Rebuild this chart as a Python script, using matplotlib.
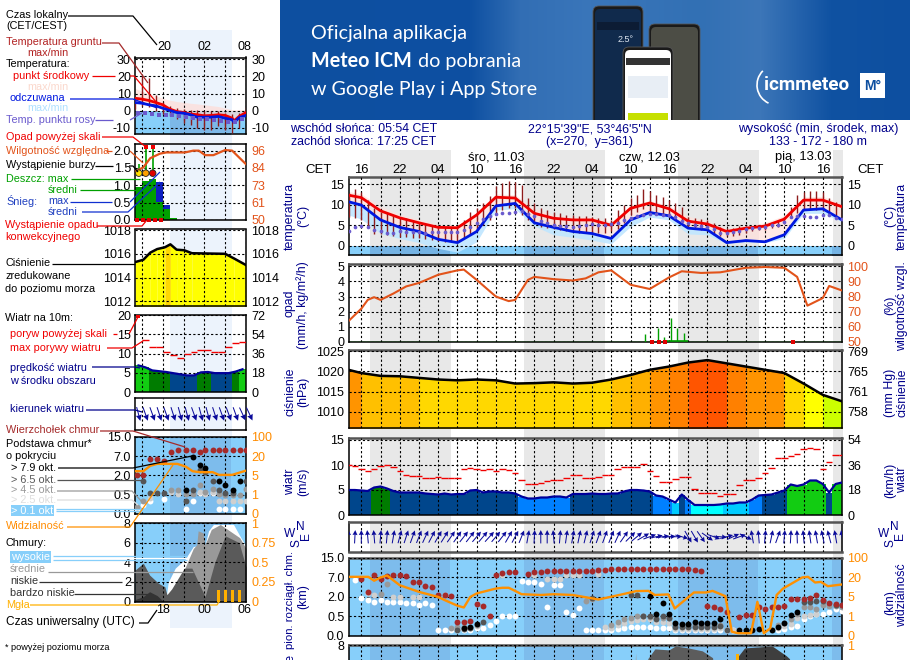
import numpy as np
import matplotlib
matplotlib.use('Agg')
import matplotlib.pyplot as plt
from matplotlib.colors import ListedColormap, BoundaryNorm
from matplotlib.patches import Rectangle, FancyBboxPatch, Arc

plt.rcParams['font.family'] = ['Liberation Sans', 'DejaVu Sans']
FS = 7.8
TICK = 9
HEAD = 8.9

# ---------- main meteogram data (hours since the left edge) ----------
t_temp = [0, 2, 5, 8, 11, 14, 17, 20, 23, 26, 29, 32, 35, 38, 41, 44, 47, 50, 53, 56, 59, 62, 65, 68, 71, 74, 77]
temp_mid = [12.3, 11.7, 8.5, 6.8, 5.6, 4.5, 4.4, 7.5, 11.8, 11.6, 7.9, 6.7, 6.3, 6.3, 5.0, 9.1, 10.4, 9.0, 6.0, 5.3, 3.5, 4.3, 4.8, 6.5, 11.1, 11.1, 9.5]
temp_mid_hi = [13.2, 12.6, 9.6, 7.6, 6.4, 5.2, 5.0, 8.2, 12.6, 12.4, 9.0, 7.6, 7.0, 7.0, 5.8, 9.9, 11.0, 9.8, 7.2, 6.0, 4.2, 5.0, 5.6, 7.4, 11.9, 12.0, 10.3]
temp_app = [10.7, 9.9, 6.3, 4.5, 3.5, 1.6, 0.8, 3.5, 9.7, 10.3, 5.6, 4.5, 3.5, 3.0, 1.8, 6.3, 8.1, 7.3, 4.3, 3.9, 0.8, 1.3, 1.0, 2.7, 8.7, 9.0, 6.3]
temp_app_lo = [7.5, 6.5, 3.0, 1.8, 0.8, -0.6, -1.5, 1.0, 8.7, 9.0, 4.8, 2.7, 2.1, 1.4, 0.5, 4.7, 7.0, 6.3, 2.9, 2.7, 0.6, 1.0, 0.8, 1.8, 7.9, 7.9, 5.9]
dew = [3.6, 4.7, 4.9, 4.7, 3.9, 3.5, 3.1, 3.1, 3.5, 3.3, 3.3, 3.3, 3.2, 3.3, 3.3, 3.3, 3.3, 3.3, 3.8, 4.6, 5.5, 6.5, 7.2, 7.8, 8.0, 8.0, 8.2, 8.5, 7.7, 7.2, 6.0, 5.5, 5.0, 4.8, 4.8, 4.7, 4.9, 5.0, 5.2, 5.0, 5.0, 5.2, 5.5, 6.2, 6.7, 7.2, 7.4, 7.8, 7.8, 7.6, 7.5, 6.9, 6.0, 5.5, 5.0, 4.9, 4.7, 4.0, 3.2, 3.1, 3.4, 3.7, 4.2, 4.4, 4.4, 4.7, 5.0, 5.0, 5.7, 7.0, 7.2, 7.2, 6.9, 6.9, 7.5, 7.6, 6.8, 6.5]
ground_max = [12.8, 13.9, 13.1, 11.1, 9.1, 8.3, 7.9, 7.5, 7.1, 6.7, 6.3, 5.9, 5.3, 5.1, 4.8, 4.7, 4.5, 4.8, 6.3, 8.3, 9.1, 10.3, 12.0, 14.4, 15.2, 15.7, 15.5, 14.8, 11.5, 10.3, 9.1, 8.7, 8.3, 7.9, 7.5, 7.5, 7.3, 7.3, 7.1, 6.7, 6.7, 6.3, 8.7, 9.9, 11.5, 12.3, 13.7, 13.2, 12.3, 11.8, 11.1, 10.3, 9.5, 7.1, 6.7, 6.5, 6.3, 5.5, 4.7, 4.3, 4.3, 4.8, 4.8, 4.8, 5.1, 5.5, 5.9, 6.3, 7.1, 9.5, 12.3, 13.1, 13.4, 13.4, 13.1, 11.5, 10.7, 10.5]
ground_min = [7.0, 6.7, 6.3, 4.7, 3.0, 3.0, 2.7, 2.3, 2.1, 2.1, 1.9, 1.9, 1.6, 1.5, 1.3, 1.0, 1.0, 1.0, 1.9, 3.0, 3.9, 5.0, 6.3, 7.9, 8.7, 9.1, 9.1, 7.5, 6.3, 5.5, 4.7, 4.3, 4.0, 3.9, 3.5, 3.5, 3.2, 3.2, 3.0, 3.1, 3.2, 3.5, 4.0, 5.5, 7.5, 8.3, 8.9, 8.3, 7.5, 7.5, 7.1, 6.3, 6.3, 4.7, 4.0, 3.9, 3.5, 2.7, 2.3, 2.3, 2.3, 2.7, 3.1, 3.5, 3.9, 3.9, 4.3, 4.7, 5.5, 6.7, 7.9, 8.7, 8.9, 8.7, 8.5, 7.5, 7.1, 7.1]

t_hum = [0, 2, 3, 4, 5, 7, 9, 11, 14, 17, 18, 20, 23, 25, 26, 28, 29, 32, 35, 37, 39, 41, 44, 47, 50, 52, 55, 58, 62, 65, 68, 70, 71.6, 74, 75, 77]
humidity = [63.8, 72, 77.8, 79.6, 77.8, 82, 86.7, 89, 94.4, 97.3, 97.8, 91, 80, 77, 77.8, 91, 93, 91.5, 90.6, 92, 96, 97.3, 87.8, 85, 92.6, 96.7, 95.6, 96, 99, 99.5, 99, 93, 74, 79, 87, 84]
rain_t = [46.3, 48.3, 49.3, 50.3, 51.2, 52.3]
rain_max = [0.55, 0.9, 0.33, 1.6, 0.9, 0.6]
rain_mean_t = [49.5, 50.5, 51.5, 52.5]
rain_mean = [0.08, 0.08, 0.08, 0.08]
conv_t = [47.3, 48.4, 49.4, 69.3]

t_pres = [0, 2, 5, 8, 11, 14, 17, 20, 23, 26, 29, 32, 35, 38, 41, 44, 47, 50, 53, 56, 59, 62, 65, 68, 71, 74, 77]
pressure = [1020.4, 1019.6, 1018.9, 1018.8, 1018.4, 1018, 1017.8, 1018, 1017.8, 1017, 1017.1, 1017.3, 1017, 1017.2, 1018, 1019.1, 1020.4, 1021.2, 1022.2, 1022.8, 1022, 1021.2, 1020.4, 1019.6, 1017, 1014.2, 1012.6]

wind = [5, 5, 4.9, 4.8, 5.5, 5.7, 5.3, 4.8, 4.5, 4.5, 4.5, 4.5, 4.3, 4.2, 4.1, 4.3, 4.1, 4.2, 4.2, 4.9, 5, 4.5, 4.7, 4.7, 4.5, 4.5, 4.3, 3.7, 3.3, 3.3, 3.5, 3.5, 3.7, 3.7, 3.5, 4.2, 4.2, 4.2, 4.3, 4.2, 4.2, 4.3, 4.3, 4.7, 5, 5, 4.9, 4.7, 3.9, 3.7, 3.1, 2.5, 4.1, 3, 2, 2, 2, 2, 2.1, 2.3, 2.3, 2.5, 2.5, 3.1, 3.9, 4, 4.1, 4.5, 4.9, 6.1, 5.8, 6.1, 6.9, 6.9, 6.2, 4.5, 6.2, 6.5]
gust = [10, 9.8, 9.3, 8.8, 9.3, 9.9, 10.1, 9.7, 8.8, 8.1, 7.9, 7.9, 7.5, 7.5, 7.7, 7.5, 7.5, 7.5, 9.2, 9.5, 9.3, 9, 9.2, 8.9, 9.2, 9, 8.5, 7, 6.3, 6.3, 6.5, 6.8, 7.1, 7, 7.5, 8, 8.1, 7.5, 7.5, 7.7, 8, 8, 9.2, 9.7, 9.7, 9.7, 10.2, 8.9, 7.8, 6.7, 6.7, 7.3, 7.7, 7.7, 5.3, 4.5, 4.5, 4.5, 3.8, 4.3, 4.3, 6.1, 7.1, 7.1, 7.5, 8.5, 9.5, 11.5, 11.5, 11.9, 12.3, 13.2, 13.5, 13.2, 9.3, 10.7, 12, 12]
wind_dir = [0, 3, 0, -5, -5, 5, 5, 10, 15, 18, 20, 22, 25, 28, 30, 32, 35, 35, 38, 38, 40, 40, 42, 40, 38, 30, 28, 22, 10, 3, 0, 0, -5, 5, 8, 10, 12, 14, 18, 20, 20, 22, 25, 35, 45, 50, 60, 70, 78, 82, 85, 88, 105, 150, 150, 145, 125, 110, 95, 75, 65, 70, 115, -10, -5, 5, 12, 20, 5, 3, -2, -5, -8, -10, -12, -15, -10, -8]

# cloud heights are kept on the chart's stretched scale: 0=0 km, 1=0.5, 2=2, 3=7, 4=15
t_tops = [2, 3, 4, 5, 6, 7, 8, 9, 10, 11, 12, 13, 14, 15, 16, 17, 18, 19, 20, 21, 22, 23, 24, 25, 26, 28, 29, 30, 31, 32, 33, 34, 35, 36, 37, 38, 39, 40, 41, 42, 43, 44, 45, 46, 47, 48, 49, 50, 51, 52, 53, 54, 55, 56, 57, 58, 59, 61, 62, 63, 64, 65, 66, 67, 68, 69, 70, 71, 72, 73, 74, 75, 76, 77]
tops = [2.94, 2.26, 3.1, 2.9, 3.06, 3.1, 3.1, 3.06, 2.74, 2.74, 2.57, 2.52, 2.1, 2.1, 2.04, 0.7, 0.7, 0.78, 1.63, 1.55, 1.02, 3.1, 3.23, 3.28, 3.27, 3.15, 3.28, 3.28, 3.32, 3.34, 3.34, 3.34, 3.34, 3.34, 3.34, 3.34, 3.36, 3.4, 3.45, 3.45, 3.45, 3.45, 3.45, 3.45, 3.45, 3.45, 3.45, 3.45, 3.45, 3.45, 3.45, 3.37, 3.34, 1.55, 1.48, 1.4, 1.24, 0.95, 1.07, 1.07, 1.5, 1.4, 1.5, 1.5, 1.55, 1.92, 1.92, 1.92, 1.97, 2.1, 1.84, 1.67, 1.62, 1.58]
t_white = [1, 2, 3, 4, 5, 6, 7, 8, 9, 10, 11, 12, 13, 14, 15, 16, 17, 18, 19, 20, 21, 22, 23, 24, 25, 26, 27, 28, 29, 30, 31, 32, 33, 34, 35, 36, 37, 38, 39, 40, 41, 42, 43, 44, 45, 46, 47, 48, 49, 50, 51, 52, 53, 54, 55, 56, 57, 58, 59, 60, 61, 67, 68, 69, 70, 71, 72, 73, 74, 75, 76, 77]
white = [2.86, 1.97, 1.84, 1.75, 1.84, 1.75, 1.75, 1.75, 1.67, 1.67, 1.58, 1.67, 1.58, 0.3, 0.3, 0.3, 0.3, 0.3, 0.3, 0.39, 0.39, 0.56, 0.77, 1.0, 1.0, 1.04, 2.8, 2.74, 2.74, 2.64, 1.5, 2.6, 2.6, 1.24, 1.1, 1.45, 0.3, 0.3, 0.3, 0.3, 0.3, 0.35, 0.4, 0.45, 0.45, 0.45, 0.45, 0.4, 0.4, 0.4, 0.3, 0.3, 0.3, 0.3, 0.3, 0.3, 0.3, 0.3, 0.3, 0.3, 0.3, 0.3, 0.35, 0.45, 0.5, 0.85, 1.02, 1.12, 1.15, 1.24, 1.36, 1.3]
t_light = [3, 4, 7, 8, 10, 11, 15, 17, 18, 19, 20, 24, 29, 31, 32, 33, 34, 35, 36, 39, 40, 41, 42, 43, 44, 45, 46, 47, 48, 49, 50, 51, 52, 53, 54, 55, 56, 57, 58, 59, 60, 67, 68, 69, 70, 71, 72, 73]
light = [2.2, 2.1, 2.0, 2.0, 2.0, 2.0, 2.1, 0.35, 0.35, 0.4, 0.5, 3.1, 3.1, 2.9, 2.9, 2.9, 3.1, 3.1, 3.1, 3.15, 0.45, 0.4, 0.55, 0.65, 0.75, 0.8, 0.85, 0.85, 0.7, 0.7, 0.65, 0.35, 0.35, 0.35, 0.35, 0.35, 0.35, 0.35, 0.4, 0.3, 0.3, 0.4, 0.5, 0.6, 0.9, 1.0, 1.1, 1.15]
t_mid = [5, 6, 16, 17, 18, 20, 37, 38, 41, 42, 43, 44, 45, 46, 47, 48, 49, 50, 51, 52, 53, 54, 55, 56, 57, 58, 67, 68, 69, 70, 71, 72, 73, 74, 75, 76, 77]
mid = [2.15, 2.65, 0.4, 0.45, 0.45, 0.55, 1.8, 1.9, 0.55, 0.7, 0.85, 0.9, 1.0, 1.0, 0.95, 0.9, 0.9, 0.9, 0.55, 0.55, 0.55, 0.55, 0.55, 0.55, 0.55, 0.55, 0.55, 0.65, 0.85, 1.15, 1.5, 1.5, 1.4, 1.6, 1.55, 1.55, 1.5]
t_dark = [17, 18, 19, 21, 38, 44, 45, 46, 47, 48, 49, 50, 51, 52, 53, 54, 55, 56, 57, 58, 59, 71, 72, 73, 74, 76, 77]
dark = [0.3, 0.35, 0.4, 0.73, 1.95, 2.1, 2.1, 1.02, 1.02, 0.85, 1.0, 0.9, 0.44, 0.44, 0.44, 0.47, 0.44, 0.44, 0.44, 0.5, 0.3, 1.75, 1.75, 1.8, 1.78, 1.58, 1.58]
t_black = [18, 19, 20, 47, 48, 49, 50, 51, 52, 53, 54, 55, 56, 57, 58, 61, 62, 63, 64, 66, 67, 68, 69, 70]
black = [0.39, 0.48, 0.62, 2.04, 1.12, 1.67, 1.12, 0.65, 0.61, 0.61, 0.73, 0.65, 0.65, 0.65, 0.85, 0.3, 0.3, 0.3, 0.34, 0.3, 0.48, 0.65, 1.07, 1.24]
t_vis = [0, 3.1, 4, 5, 6, 8, 11, 14, 15, 17, 18, 19, 20, 23, 24, 25, 26, 27, 30, 32, 35, 39, 42.8, 44.9, 46.8, 47.8, 49.9, 50.9, 53.9, 55.8, 56.8, 58.8, 59.8, 60.8, 62.8, 63.8, 64.8, 65.8, 66.8, 67.8, 70.8, 71.7, 72.8, 73.7, 74.8, 77]
vis = [3.03, 3.03, 2.83, 3.0, 3.1, 2.6, 2.26, 2.0, 1.84, 1.55, 1.46, 2.0, 2.18, 2.43, 2.47, 2.47, 2.31, 2.14, 2.1, 2.14, 2.1, 1.87, 2.14, 2.3, 2.31, 2.1, 2.13, 1.41, 2.23, 2.23, 2.31, 2.04, 0.22, 0.14, 0.14, 1.75, 0.14, 0.39, 2.1, 2.43, 3.0, 3.03, 2.74, 2.77, 2.55, 2.64]

# only the top of the lowest panel is inside the image
t_low1 = [46, 46.7, 47.8, 50, 51, 53, 55.2, 56.8, 58]
low1 = [0, 6.6, 7.6, 7.5, 7.9, 7.7, 7.4, 6.7, 0]
t_low2 = [60, 60.5, 61.8, 66.1, 68.3, 68.8, 71]
low2 = [0, 6.6, 7.7, 7.9, 6.9, 6.6, 0]
t_spike = [44.2, 44.8, 45.4]
spike = [0, 7.2, 0]
fog_t = [60.7, 62]
fog = [0.88, 0.8]

# ---------- small panel on the left ----------
lt_temp = [0, 1, 2, 3, 4, 5, 6, 7, 8, 9, 10, 11, 12, 13, 14, 14.3, 15, 16]
l_temp_mid = [7.3, 6.8, 6, 4.8, 3.5, 1, -0.4, -1, -1.9, -2.3, -2.9, -2.7, -2.3, -2.7, -4.3, -5.8, -3.3, -1]
l_temp_app = [4.8, 4.4, 3.5, 2.9, 1.5, 0.2, -1, -1.4, -2.3, -3.7, -3.7, -3.7, -3.3, -4.3, -5.2, -6.8, -4, -2.7]
l_temp_hi = [13, 11.5, 10, 8.6, 7.3, 6.2, 5.4, 4.9, 4.4, 4, 3.5, 3, 2.5, 1.6, 0.6, 0.4, 0.8, 0.6]
l_ground_max = [7, 20, 19, 9, 5, 3, 1.5, 1, 0.5, 0.5, 0, 0, 0, -1, -2, -1, 2]
l_ground_min = [1, 3, 2, 0, -2, -3, -5, -7, -8, -10, -11, -11, -9, -11, -13, -10, -3]
l_dew = [-1, -1.5, -2, -2.5, -2.5, -2.5, -3, -3.5, -4, -4.5, -5, -5.5, -6, -6.5, -6.5, -5, -4]

lt_hum = [0, 1.2, 2.2, 3.6, 4.5, 7.2, 8.4, 9.2, 10.1, 11.3, 13, 14, 16]
l_humidity = [82, 84.9, 91, 94, 94.8, 94.8, 96, 96, 93, 93, 96.4, 96, 87]
l_rain = [0.96, 1.13, 1.18, 0.52, 0.33, 0.06]
l_snow_top = [0.96, 1.13, 1.18, 1.1, 0.43, 0.06]
l_storm_t = [0.55, 1.55, 2.55]
l_storm = [1.35, 1.35, 1.35]
l_storm_col = ['#ffe000', '#ffa000', '#e00000']
l_rain_max = [1.62, 2.08, 2.08]

lt_pres = [0, 1.2, 2.2, 3.2, 4.3, 5.1, 6, 7.1, 8.2, 13, 14.3, 16]
l_pressure = [1015.3, 1015.5, 1016.1, 1016.4, 1016.55, 1016.8, 1016.35, 1016.3, 1016.05, 1016, 1015.6, 1015.05]
l_wind = [6.9, 6.4, 5.6, 5.4, 5.2, 4.9, 4.6, 4.3, 4.3, 5.1, 5.2, 4.9, 4.9, 4.9, 5.3, 5.9]
l_gust = [np.nan, 13.4, 11.6, 11.6, 10.5, 9.6, 8.8, 9.9, 10.5, 10.9, 10.9, 10.5, 10.5, 11.6, 12.7, 13]
l_dir = [165, 160, 160, 162, 160, 162, 165, 165, 160, 165, 165, 162, 160, 160, 160, 155, 155]

l_dots_t = [0.3, 1.2, 2.2, 3.2, 4.2, 5.2, 6.2, 7.3, 8.3, 9.3, 10.1, 11.2, 12.1, 13, 14.1, 15.1, 16]
l_tops = [2, 2, 2.85, 2.85, 2.77, 3.23, 3.3, 3.3, 3.3, 3.23, 3.3, 3.3, 3.3, 3.3, 3.3, 3.3, 3.3]
l_black_t = [7.3, 8.3, 9.3, 10.1, 12.1, 13, 14.1, 15.1]
l_black = [1.26, 2.97, 2.55, 2.38, 1.7, 1.5, 1.26, 1.7]
l_dark_t = [1.2, 2.2, 3.2, 4.2, 7.3, 8.3, 9.3, 10.1, 11.2, 12.1, 13, 14.1, 16]
l_dark = [1.7, 1.1, 1.1, 1.1, 0.7, 1.26, 2.3, 2.2, 1.7, 1.22, 1.1, 1.1, 1.7]
l_mid_t = [0.3, 1.2, 5.2, 6.2, 7.3, 8.3, 9.3, 10.1, 11.2, 12.1, 13, 14.1, 15.1, 16]
l_mid = [0.37, 0.7, 1.26, 1.26, 1.05, 1.05, 1.5, 1.14, 1.3, 1.05, 1.0, 1.0, 1.0, 1.3]
l_light_t = [2.2, 5.2, 6.2, 9.3, 10.1, 11.2, 12.1, 13, 14.1, 15.1, 16]
l_light = [0.85, 1.14, 1.05, 1.14, 1.05, 1.14, 0.7, 0.7, 0.7, 0.7, 0.7]
l_white_t = [0.3, 1.2, 2.2, 4.2, 7.3, 8.3, 9.3, 10.1, 11.2, 12.1, 13, 14.1, 15.1]
l_white = [0.24, 0.45, 0.7, 0.77, 0.24, 0.7, 1.1, 1.1, 1.1, 0.24, 0.24, 0.24, 0.24]
lt_vis = [0, 1.2, 2.2, 3.2, 6.1, 7.3, 8.3, 9.3, 11.2, 12.1, 14, 16]
l_vis = [2.22, 2.22, 2.5, 2.6, 2.6, 2.46, 2.22, 2.17, 2.17, 2.03, 2.03, 2.25]

lc_high_t = [4.4, 4.8, 5.8, 7.2, 8.4, 10.1, 10.6, 11.3, 14.2, 15.1, 16]
lc_high = [0, 2, 3.4, 4.3, 5.6, 5.8, 7.2, 7.85, 7.85, 6.7, 5.6]
lc_mid_t = [7.2, 8.4, 8.9, 9.1, 9.8, 10.1, 11, 12.3, 15.1, 16]
lc_mid = [3.4, 5.4, 5.8, 7.2, 7, 5.8, 7.35, 7.85, 6.5, 5.4]
lc_low_t = [0, 1.2, 2.1, 3.4, 4.3, 4.6, 5.3, 7.1, 8.2, 10.1, 11.5, 13, 15, 16]
lc_low = [3.2, 3.9, 2.7, 1.85, 1.5, 0.7, 1.3, 3.4, 3.4, 0.5, 4, 6.7, 6, 3.5]
lc_vlow_t = [0, 1.2, 2.1, 3.2, 4.1]
lc_vlow = [0.2, 0.5, 1.0, 0.6, 0]
lc_fog_t = [12, 13, 14, 15]
lc_fog = [1.2, 1.2, 1.2, 1.2]

W, H = 910, 660
HOUR = 6.42
NIGHTS = [(3.4, 15.9), (27.4, 39.9), (51.4, 63.9), (75.4, 77)]
SKY, SKY_N = '#87cffa', '#7dbcec'
TITLE = '#00008b'
ORANGE_R = '#e2531a'
ORANGE = '#ff8c00'

wind_cmap = ListedColormap(['#00ffff', '#00ccff', '#0080ff', '#00468c', '#007c00', '#12cc12'])
wind_norm = BoundaryNorm([0, 2.2, 2.7, 3.95, 5.05, 5.8, 30], 6)
pres_cmap = ListedColormap(['#ccff00', '#ffff00', '#ffd800', '#ffc000', '#ffb000', '#ff9400', '#ff8000', '#ff5500'])
pres_norm = BoundaryNorm([1000, 1013.5, 1016.6, 1018.4, 1019.3, 1020, 1021, 1022.4, 1030], 8)


def px_ax(x0, y0, x1, y1, xlim, ylim, face='none', grid_t=None):
    ax = fig.add_axes([x0 / W, 1 - y1 / H, (x1 - x0) / W, (y1 - y0) / H], facecolor=face, zorder=2)
    ax.set_xlim(*xlim)
    ax.set_ylim(*ylim)
    ax.set_xticks(grid_t)
    ax.set_xticklabels([])
    ax.tick_params(length=0, labelsize=TICK, pad=3)
    ax.set_axisbelow(False)
    ax.grid(True, color='black', lw=0.8, ls=(0, (2, 2)))
    for s in ax.spines.values():
        s.set_linewidth(1.1)
    return ax


def y_both(ax, ticks, left, right, rcol='black'):
    ax.set_yticks(ticks)
    ax.set_yticklabels(left)
    tw = ax.twinx()
    tw.set_zorder(1)
    tw.set_ylim(ax.get_ylim())
    tw.set_yticks(ticks)
    tw.set_yticklabels(right, color=rcol)
    tw.tick_params(length=0, labelsize=TICK, pad=4)
    for s in tw.spines.values():
        s.set_visible(False)


def pressure_fill(ax, t, p):
    for i in range(len(t) - 1):
        c = pres_cmap(pres_norm((p[i] + p[i + 1]) / 2))
        ax.fill_between(t[i:i + 2], 1000, p[i:i + 2], color=c, lw=0, zorder=1)


def cloud_dots(ax, sets, size):
    for tt, vv, c in sets:
        ax.scatter(tt, vv, s=size, color=c, lw=0, zorder=3, clip_on=True)


fig = plt.figure(figsize=(W / 100, H / 100), dpi=100, facecolor='white')

# backdrop in pixel coordinates
bg = fig.add_axes([0, 0, 1, 1], zorder=0)
bg.set_xlim(0, W)
bg.set_ylim(H, 0)
bg.axis('off')

# banner
stops_x = [280, 470, 520, 590, 700, 760, 830, 910]
stops_r = [13, 14, 50, 58, 50, 60, 16, 13]
stops_g = [79, 80, 110, 118, 112, 118, 82, 79]
stops_b = [160, 162, 180, 186, 180, 184, 162, 160]
xs = np.arange(280, 910)
grad = np.dstack([np.interp(xs, stops_x, c) / 255 for c in (stops_r, stops_g, stops_b)])
bg.imshow(grad, extent=[280, 910, 120, 0], aspect='auto', zorder=1)
bg.set_xlim(0, W)
bg.set_ylim(H, 0)
bg.text(311, 33, 'Oficjalna aplikacja', color='white', family='Lato', fontsize=14.2, va='center')
bg.text(311, 61, 'Meteo ICM', color='white', family='Lato', fontsize=14.2, va='center', weight='bold')
bg.text(418, 61, 'do pobrania', color='white', family='Lato', fontsize=14.2, va='center')
bg.text(311, 89, 'w Google Play i App Store', color='white', family='Lato', fontsize=14.2, va='center')
for x0, y0, w, h, edge, scr in [(593, 6, 50, 130, '#1a1a1a', '#102a4c'), (649, 24, 51, 110, '#1a1a1a', '#4c4d45'), (623, 47, 50, 90, '#1a1a1a', '#ffffff')]:
    bg.add_patch(FancyBboxPatch((x0, y0), w, h, boxstyle='round,pad=0,rounding_size=6', fc=edge, ec='#555555', lw=0.6, zorder=2))
    bg.add_patch(FancyBboxPatch((x0 + 2, y0 + 3), w - 4, h, boxstyle='round,pad=0,rounding_size=5', fc=scr, ec='none', zorder=2))
bg.add_patch(Rectangle((280, 120), 630, 30, fc='white', ec='none', zorder=2))
bg.add_patch(Rectangle((626, 58), 44, 7, fc='#333333', ec='none', zorder=3))
bg.add_patch(Rectangle((628, 76), 40, 22, fc='#e8eef5', ec='none', zorder=3))
bg.add_patch(Rectangle((628, 113), 40, 7, fc='#c6e000', ec='none', zorder=3))
bg.add_patch(Rectangle((597, 22), 42, 8, fc='#0c1c34', ec='none', zorder=3))
bg.text(618, 40, '2.5°', color='#dde6f0', fontsize=6.5, ha='left', va='center', zorder=3)
bg.text(764, 85, 'icmmeteo', color='white', weight='bold', family='Roboto', fontsize=13.6, va='center', zorder=3)
bg.add_patch(Arc((777, 85), 40, 40, theta1=115, theta2=225, color='white', lw=1.2, zorder=3))
bg.add_patch(Rectangle((860, 73), 25, 25, fc='white', ec='none', zorder=3))
bg.text(872.5, 85.5, 'M°', color='#0d4fa0', weight='bold', fontsize=10, ha='center', va='center', zorder=4)

# night bands behind the panels
for a, b in NIGHTS:
    bg.add_patch(Rectangle((348.5 + a * HOUR, 150), (b - a) * HOUR, 510, fc='#e8e8e8', ec='none', zorder=1))
bg.add_patch(Rectangle((170, 30), 61.5, 598, fc='#ecf3fc', ec='none', zorder=1))

# ---------- main panels ----------
MX0, MX1 = 348.5, 842
MX = (0, 77)
GRID = np.arange(2, 78, 3)


def main_ax(y0, y1, ylim, face='none'):
    ax = px_ax(MX0, y0, MX1, y1, MX, ylim, face, GRID)
    ax.spines['top'].set_color('#555555')
    ax.spines['top'].set_linewidth(1.8)
    return ax


hours = np.arange(78)
ax = main_ax(177, 255, (-2.2, 16.7))
ax.axhspan(-3, 0, color=SKY, lw=0, zorder=1)
for a, b in NIGHTS:
    ax.fill_between([a, b], -3, 0, color='#74b3e4', lw=0, zorder=1)
ax.fill_between(t_temp, temp_app, temp_mid_hi, color='#ffe0da', alpha=0.7, lw=0, zorder=1.2)
ax.fill_between(t_temp, temp_app_lo, temp_app, color='#bfe6ff', alpha=0.9, lw=0, zorder=1.3)
ax.vlines(hours, ground_min, ground_max, color='#8e1c1c', lw=1.0, zorder=3)
ax.plot(t_temp, temp_mid, color='#f00000', lw=2, zorder=4)
ax.plot(t_temp, temp_app, color='#0018e0', lw=2, zorder=4)
ax.scatter(hours, dew, s=7, color='#6a5acd', lw=0, zorder=5)
ticks = [0, 5, 10, 15]
y_both(ax, ticks, ticks, ticks)
lab = [''] * len(GRID)
for i, s in enumerate(['16', '22', '04', '10', '16', '22', '04', '10', '16', '22', '04', '10', '16']):
    lab[i * 2] = s
ax.xaxis.tick_top()
ax.set_xticklabels(lab)
ax.tick_params(axis='x', length=0, pad=1, labelsize=TICK + 0.4)

ax = main_ax(264, 342, (0, 5.15))
ax.vlines(rain_t, 0, rain_max, color='#00a000', lw=1, zorder=3)
ax.hlines(rain_mean, np.array(rain_mean_t) - 0.5, np.array(rain_mean_t) + 0.5, color='#00a000', lw=1.2, zorder=3)
ax.hlines([0], 0, 77, color='#007000', lw=1, zorder=3)
ax.scatter(conv_t, [0] * len(conv_t), s=9, marker='s', color='#e00000', lw=0, zorder=4, clip_on=False)
hum = (np.array(humidity) - 50) / 50 * 5
ax.plot(t_hum, hum, color=ORANGE_R, lw=1.5, zorder=4)
y_both(ax, [0, 1, 2, 3, 4, 5], [0, 1, 2, 3, 4, 5], [50, 60, 70, 80, 90, 100], ORANGE_R)

ax = main_ax(350, 428, (1006, 1025.3))
pressure_fill(ax, t_pres, pressure)
ax.plot(t_pres, pressure, color='black', lw=1.8, zorder=4)
y_both(ax, [1010, 1015, 1020, 1025], [1010, 1015, 1020, 1025], [758, 761, 765, 769])

ax = main_ax(438, 515, (0, 15.4))
ax.bar(hours, wind, width=1.02, color=wind_cmap(wind_norm(wind)), lw=0, zorder=1)
ax.plot(hours, wind, color='#00009a', lw=1.6, zorder=4)
ax.hlines(gust, hours - 0.5, hours + 0.5, color='#f00000', lw=1, zorder=4)
y_both(ax, [0, 5, 10, 15], [0, 5, 10, 15], [0, 18, 36, 54])

ax = main_ax(521.5, 552, (-1, 1))
ang = np.radians(wind_dir)
ax.quiver(hours, np.zeros(78), np.sin(ang), np.cos(ang), pivot='mid', color='#0a0a9a', angles='uv', scale_units='dots', scale=0.075,
          width=1.0, units='dots', headwidth=5, headlength=5, headaxislength=4.5, zorder=3)
ax.spines['bottom'].set_color('#555555')
ax.spines['bottom'].set_linewidth(1.8)
ax.set_yticks([])

ax = main_ax(557.5, 636, (0, 4.02), SKY)
for a, b in NIGHTS:
    ax.axvspan(a, b, color=SKY_N, lw=0, zorder=1)
cloud_dots(ax, [(t_white, white, 'white'), (t_light, light, '#cfcfcf'), (t_mid, mid, '#999999'),
                (t_dark, dark, '#555555'), (t_black, black, 'black'), (t_tops, tops, '#a52a2a')], 18)
ax.plot(t_vis, vis, color='#ff9000', lw=1.7, zorder=4)
y_both(ax, [0, 1, 2, 3, 4], ['0.0', '0.5', '2.0', '7.0', '15.0'], [0, 1, 5, 20, 100], ORANGE)

ax = main_ax(645, 723, (0, 8), SKY)
for a, b in NIGHTS:
    ax.axvspan(a, b, color=SKY_N, lw=0, zorder=1)
ax.fill_between(t_spike, 0, spike, color='#a0a0a0', lw=0, zorder=2)
ax.fill_between(t_low1, 0, low1, color='#5c5c5c', lw=0, zorder=2)
ax.fill_between(t_low2, 0, low2, color='#3e3e3e', lw=0, zorder=2)
ax.bar(fog_t, np.array(fog) * 8, width=0.5, color='#ffb000', lw=0, zorder=3)
y_both(ax, [8], [8], [1], ORANGE)

# ---------- left panels ----------
LX0, LX1 = 135, 246
LX = (0, 16)
LGRID = np.arange(1, 17, 3)
NL = (5.04, 13.9)
lh = np.arange(17)

ax = px_ax(LX0, 57.5, LX1, 134, LX, (-13.5, 31), 'none', LGRID)
ax.axhspan(-14, 0, color=SKY, lw=0, zorder=1)
ax.fill_between(NL, -14, 0, color='#7cb8e8', lw=0, zorder=1)
ax.fill_between(lt_temp, l_temp_app, l_temp_hi, color='#ffdcd6', alpha=0.7, lw=0, zorder=1.2)
ax.vlines(lh, l_ground_min, l_ground_max, color='#8e1c1c', lw=1, zorder=3)
ax.plot(lt_temp, l_temp_mid, color='#f00000', lw=2, zorder=4)
ax.plot(lt_temp, l_temp_app, color='#0018e0', lw=2, zorder=4)
ax.scatter(lh + 0.4, l_dew, s=7, marker='s', color='#6a5acd', lw=0, zorder=5)
t30 = [-10, 0, 10, 20, 30]
y_both(ax, t30, t30, t30)

ax = px_ax(LX0, 143.7, LX1, 220, LX, (0, 2.2), 'none', LGRID)
rain_h = np.arange(6) + 0.5
ax.bar(rain_h, l_snow_top, width=1.0, color='#1020c0', lw=0, zorder=1)
ax.bar(rain_h, l_rain, width=1.0, color='#00a000', lw=0, zorder=2)
ax.vlines(l_storm_t, l_storm, l_rain_max, color='#00a000', lw=1.2, zorder=3)
ax.scatter(l_storm_t, l_storm, s=22, c=l_storm_col, edgecolors='#222222', linewidths=0.6, zorder=5)
ax.scatter(l_storm_t[1:], [2.1, 2.1], s=10, marker='s', color='#f00000', lw=0, zorder=5)
ax.scatter(np.arange(0.3, 4.2, 0.85), [0] * 5, s=5, marker='s', color='#e00000', lw=0, zorder=5, clip_on=False)
ax.plot(lt_hum, (np.array(l_humidity) - 50) / 23, color=ORANGE_R, lw=1.6, zorder=4)
y_both(ax, [0, 0.5, 1, 1.5, 2], ['0.0', '0.5', '1.0', '1.5', '2.0'], [50, 61, 73, 84, 96], ORANGE_R)

ax = px_ax(LX0, 229.5, LX1, 306, LX, (1011.6, 1018.05), 'none', LGRID)
pressure_fill(ax, lt_pres, l_pressure)
ax.plot(lt_pres, l_pressure, color='black', lw=1.8, zorder=4)
p12 = [1012, 1014, 1016, 1018]
y_both(ax, p12, p12, p12)

ax = px_ax(LX0, 315, LX1, 392, LX, (0, 20), 'none', LGRID)
lw_h = np.arange(16) + 0.5
ax.bar(lw_h, l_wind, width=1.0, color=wind_cmap(wind_norm(l_wind)), lw=0, zorder=1)
ax.plot(lw_h, l_wind, color='#00009a', lw=1.6, zorder=4)
ax.hlines(l_gust, lw_h - 0.5, lw_h + 0.5, color='#f00000', lw=1, zorder=4)
ax.scatter([0.5], [19.7], s=8, marker='s', color='#f00000', lw=0, zorder=5)
y_both(ax, [0, 5, 10, 15, 20], [0, 5, 10, 15, 20], [0, 18, 36, 54, 72])

ax = px_ax(LX0, 398, LX1, 430, LX, (-1, 1), 'none', LGRID)
ang = np.radians(l_dir)
ax.quiver(lh + 0.5, np.zeros(17), np.sin(ang), np.cos(ang), pivot='mid', color='#0a0a9a', angles='uv', scale_units='dots', scale=0.07,
          width=1.0, units='dots', headwidth=6, headlength=6, headaxislength=5.5, zorder=3, clip_on=False)
ax.set_yticks([])

ax = px_ax(LX0, 436.5, LX1, 514, LX, (0, 4.02), SKY, LGRID)
ax.axvspan(*NL, color=SKY_N, lw=0, zorder=1)
cloud_dots(ax, [(l_white_t, l_white, 'white'), (l_light_t, l_light, '#cfcfcf'), (l_mid_t, l_mid, '#999999'),
                (l_dark_t, l_dark, '#555555'), (l_black_t, l_black, 'black'), (l_dots_t, l_tops, '#a52a2a')], 18)
ax.plot(lt_vis, l_vis, color='#ff9000', lw=1.7, zorder=4)
y_both(ax, [0, 1, 2, 3, 4], ['0.0', '0.5', '2.0', '7.0', '15.0'], [0, 1, 5, 20, 100], ORANGE)

ax = px_ax(LX0, 523, LX1, 601.5, LX, (0, 8), SKY, LGRID)
ax.axvspan(*NL, color=SKY_N, lw=0, zorder=1)
ax.fill_between(lc_high_t, 0, lc_high, color='white', lw=0, zorder=2)
ax.fill_between(lc_mid_t, 0, lc_mid, color='#999999', lw=0, zorder=2.1)
ax.fill_between(lc_low_t, 0, lc_low, color='#5a5a5a', lw=0, zorder=2.2)
ax.fill_between(lc_vlow_t, 0, lc_vlow, color='#333333', lw=0, zorder=2.3)
ax.bar(lc_fog_t, lc_fog, width=0.42, color='#ffb000', lw=0, zorder=3)
y_both(ax, [0, 2, 4, 6, 8], [0, 2, 4, 6, 8], [0, 0.25, 0.5, 0.75, 1], ORANGE)

# ---------- overlay: labels and leader lines in pixel coordinates ----------
ov = fig.add_axes([0, 0, 1, 1], zorder=20, facecolor='none')
ov.set_xlim(0, W)
ov.set_ylim(H, 0)
ov.axis('off')


def txt(x, y, s, c='black', **kw):
    kw.setdefault('fontsize', FS)
    ov.text(x, y, s, color=c, va='center', **kw)


leaders = [
    ('black', [(68, 16), (133, 16), (157, 45)]),
    ('#a52a2a', [(102, 43), (119, 43), (148, 83)]),
    ('#f00000', [(92, 76), (115, 76)]), ('#f00000', [(130, 76), (134, 76), (157, 103)]),
    ('#0018e0', [(70, 99), (133, 99), (157, 108)]),
    ('#6a5acd', [(95, 120), (113, 120)]), ('#6a5acd', [(130, 120), (142, 113)]),
    ('#f00000', [(102, 137), (133, 137), (146, 147)]),
    (ORANGE_R, [(106, 151), (112, 151)]), (ORANGE_R, [(130, 151), (143, 163)]),
    ('black', [(95, 166), (113, 166)]), ('black', [(129, 166), (133, 166), (138, 172)]),
    ('#00a000', [(71, 179), (140, 179)]), ('#00a000', [(80, 190), (143, 190)]),
    ('#1030d0', [(70, 202), (112, 202)]), ('#1030d0', [(130, 202), (160, 172)]),
    ('#1030d0', [(82, 212), (128, 212), (160, 182)]),
    ('#f00000', [(97, 226), (142, 226), (147, 220)]),
    ('black', [(52, 264), (135, 264)]),
    ('#f00000', [(113, 334), (117, 334)]), ('#f00000', [(129, 334), (138, 317)]),
    ('#f00000', [(107, 348), (132, 348), (143, 341)]),
    ('#00008b', [(92, 367), (135, 367), (140, 368)]),
    ('#00008b', [(86, 410), (135, 410), (142, 412)]),
    ('#a52a2a', [(100, 431), (133, 431), (185, 447)]),
    ('black', [(58, 468), (133, 468), (192, 456)]),
    ('#555555', [(57, 480), (143, 480)]),
    ('#999999', [(57, 491), (132, 491), (143, 503)]),
    ('#dddddd', [(57, 500), (132, 500), (138, 505)]),
    ('#87cffa', [(56, 509), (143, 509)]), ('#87cffa', [(56, 511), (143, 511)]),
    ('#ff9000', [(67, 527), (130, 527), (173, 465)]),
    ('#87cffa', [(53, 556), (187, 556)]), ('#87cffa', [(53, 560), (187, 560)]), ('white', [(53, 558), (187, 558)]),
    ('#999999', [(48, 572), (193, 572)]),
    ('#333333', [(39, 582), (122, 582)]), ('#333333', [(130, 582), (135, 582)]),
    ('#333333', [(74, 594), (150, 594)]),
    ('#ffb000', [(30, 605), (217, 605), (220, 600)]),
    ('black', [(139, 623), (148, 623), (157, 610)]),
]
for c, pts in leaders:
    ov.plot([p[0] for p in pts], [p[1] for p in pts], color=c, lw=0.9, solid_capstyle='butt')

RED = '#f00000'
FIRE = '#b22222'
GREEN = '#00a000'
BLUE = '#0018e0'
SNOW = '#2040c0'
NAVY = '#00008b'
for x, y, s, c in [
    (6, 15, 'Czas lokalny', 'black'), (6, 26, '(CET/CEST)', 'black'),
    (6, 42, 'Temperatura gruntu', FIRE), (27, 53, 'max/min', FIRE),
    (6, 64, 'Temperatura:', 'black'), (13, 76, 'punkt środkowy', RED),
    (27, 87, 'max/min', '#fbd8cc'), (10, 98, 'odczuwana', BLUE),
    (27, 108, 'max/min', '#aee0ff'), (6, 120, 'Temp. punktu rosy', '#6a5acd'),
    (6, 137, 'Opad powyżej skali', RED), (6, 151, 'Wilgotność względna', ORANGE_R),
    (6, 165, 'Wystąpienie burzy', 'black'), (6, 179, 'Deszcz: max', GREEN),
    (48, 190, 'średni', GREEN), (6, 201, 'Śnieg:', SNOW), (48, 201, 'max', SNOW), (48, 212, 'średni', SNOW),
    (5, 225, 'Wystąpienie opadu', RED), (5, 237, 'konwekcyjnego', RED),
    (5, 263, 'Ciśnienie', 'black'), (5, 276, 'zredukowane', 'black'), (5, 289, 'do poziomu morza', 'black'),
    (5, 318, 'Wiatr na 10m:', 'black'), (10, 334, 'poryw powyżej skali', RED), (10, 348, 'max porywy wiatru', RED),
    (10, 368, 'prędkość wiatru', NAVY), (10, 381, 'w środku obszaru', NAVY), (10, 409, 'kierunek wiatru', NAVY),
    (6, 430, 'Wierzchołek chmur', '#a52a2a'), (6, 444, 'Podstawa chmur*', 'black'), (6, 456, 'o pokryciu', 'black'),
    (11, 468, '> 7.9 okt.', 'black'), (11, 480, '> 6.5 okt.', '#555555'), (11, 490, '> 4.5 okt.', '#999999'),
    (11, 500, '> 2.5 okt.', '#dddddd'), (6, 526, 'Widzialność', '#ff8c00'), (6, 543, 'Chmury:', 'black'),
    (10, 569, 'średnie', '#999999'), (10, 581, 'niskie', '#333333'), (10, 593, 'bardzo niskie', '#333333'),
    (6, 605, 'Mgła', '#ffb000'),
]:
    txt(x, y, s, c)
txt(6, 622, 'Czas uniwersalny (UTC)', 'black', fontsize=8.6)
ov.add_patch(Rectangle((11, 505), 43, 11, fc='#87cffa', ec='none'))
txt(11, 510.5, '> 0.1 okt.', 'white')
ov.add_patch(Rectangle((10, 551), 41, 12, fc='#87cffa', ec='none'))
txt(11, 557, 'wysokie', 'white')
txt(5, 648, '* powyżej poziomu morza', 'black', fontsize=6.6)

# time labels of the left panel
for x, s in [(164, '20'), (204, '02'), (244, '08')]:
    txt(x, 47, s, 'black', ha='center', fontsize=TICK)
for x, s in [(163, '18'), (204, '00'), (245, '06')]:
    txt(x, 610, s, 'black', ha='center', fontsize=TICK)

# header above the main panels
txt(290, 129, 'wschód słońca: 05:54 CET', NAVY, fontsize=HEAD)
txt(291, 142, 'zachód słońca: 17:25 CET', NAVY, fontsize=HEAD)
txt(590, 129, '22°15\'39"E, 53°46\'5"N', NAVY, ha='center', fontsize=HEAD)
txt(590, 142, '(x=270,  y=361)', NAVY, ha='center', fontsize=HEAD)
txt(818, 129, 'wysokość (min, środek, max)', NAVY, ha='center', fontsize=HEAD)
txt(818, 142, '133 - 172 - 180 m', NAVY, ha='center', fontsize=HEAD)
txt(319, 170, 'CET', 'black', ha='center', fontsize=HEAD + 0.6)
txt(871, 170, 'CET', 'black', ha='center', fontsize=HEAD + 0.6)
txt(496, 157, 'śro, 11.03', 'black', ha='center', fontsize=HEAD + 0.4)
txt(649, 157, 'czw, 12.03', 'black', ha='center', fontsize=HEAD + 0.4)
txt(803, 157, 'pią, 13.03', 'black', ha='center', fontsize=HEAD + 0.4)

# rotated axis titles
for x, y, s, fsize in [
    (290, 216, 'temperatura', HEAD), (303, 216, '(°C)', HEAD), (890, 216, '(°C)', HEAD), (902, 216, 'temperatura', HEAD),
    (290, 303, 'opad', HEAD), (303, 305, '(mm/h, kg/m²/h)', HEAD), (890, 305, '(%)', HEAD), (902, 306, 'wilgotność wzgl.', HEAD),
    (290, 392, 'ciśnienie', HEAD), (303, 392, '(hPa)', HEAD), (890, 393, '(mm Hg)', HEAD), (902, 393, 'ciśnienie', HEAD),
    (290, 482, 'wiatr', HEAD), (303, 482, '(m/s)', HEAD), (890, 480, '(km/h)', HEAD), (902, 480, 'wiatr', HEAD),
    (290, 600, 'pion. rozciągł. chm.', 8.2), (303, 597, '(km)', HEAD), (890, 603, '(km)', HEAD), (902, 595, 'widzialność', HEAD),
    (290, 692, 'zachmurzenie', HEAD),
]:
    ov.text(x, y, s, color=NAVY, fontsize=fsize, rotation=90, ha='center', va='center', clip_on=False)

# compass marks next to the direction panels
for x0 in (284, 878):
    txt(x0, 534, 'W', NAVY, fontsize=8.6)
    txt(x0 + 12, 527, 'N', NAVY, fontsize=8.6)
    ov.text(x0 + 22, 536, 'E', color=NAVY, fontsize=8.6, rotation=90, ha='center', va='center')
    ov.text(x0 + 13, 543, 'S', color=NAVY, fontsize=8.6, rotation=90, ha='center', va='center')

fig.savefig('out.png', dpi=100)
